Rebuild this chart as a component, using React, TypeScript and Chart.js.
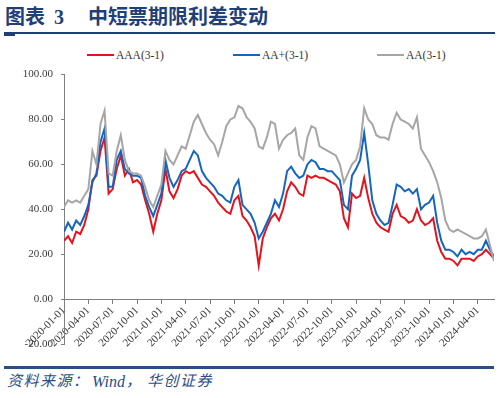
import React, { useEffect, useRef } from "react";
import { Chart, registerables } from "chart.js";

Chart.register(...registerables);

// semi-monthly observation dates (1st and 16th of each month), 2020-01-01 .. 2024-06-01
const dates: string[] = [];
for (let y = 2020; y <= 2024; y++) {
  for (let m = 1; m <= 12; m++) {
    const mm = String(m).padStart(2, "0");
    dates.push(`${y}-${mm}-01`);
    if (y === 2024 && m === 6) break;
    dates.push(`${y}-${mm}-16`);
  }
  if (y === 2024) break;
}

const quarterLabels = [
  "2020-01-01", "2020-04-01", "2020-07-01", "2020-10-01",
  "2021-01-01", "2021-04-01", "2021-07-01", "2021-10-01",
  "2022-01-01", "2022-04-01", "2022-07-01", "2022-10-01",
  "2023-01-01", "2023-04-01", "2023-07-01", "2023-10-01",
  "2024-01-01", "2024-04-01",
];

const seriesNames = ["AAA(3-1)", "AA+(3-1)", "AA(3-1)"];

const aaa = [
  26, 28, 25, 30, 29, 33, 40, 53, 55, 66, 72, 47,
  49, 58, 64, 55, 58, 52, 53, 51, 44, 38, 30, 38,
  44, 58, 48, 45, 49, 55, 57, 56, 57, 54, 51, 50,
  48, 46, 43, 41, 39, 38, 44, 46, 37, 35, 32, 28,
  15, 27, 32, 36, 38, 35, 40, 48, 52, 50, 47, 46,
  55, 54, 55, 54, 54, 53, 52, 51, 48, 36, 32, 47,
  45, 46, 54, 45, 38, 34, 32, 31, 30, 38, 42, 37,
  36, 34, 35, 40, 35, 33, 34, 36, 26, 21, 18, 18,
  17, 15, 18, 18, 18, 17, 19, 20, 22, 20, 18,
];

const aaPlus = [
  30, 34, 31, 35, 33, 37, 42, 52, 56, 70, 76, 50,
  50, 62, 66, 58, 56, 55, 55, 54, 46, 41, 37, 42,
  47, 62, 54, 50, 53, 57, 58, 62, 66, 64, 57, 54,
  52, 50, 47, 46, 44, 43, 50, 53, 42, 40, 38, 34,
  27, 30, 34, 38, 44, 41, 47, 57, 59, 56, 54, 55,
  60, 62, 61, 58, 58, 57, 57, 55, 53, 42, 40, 55,
  58, 62, 74, 60, 44, 38, 35, 33, 34, 42, 51, 50,
  48, 49, 47, 49, 40, 42, 43, 46, 34, 26, 22, 22,
  21, 19, 22, 20, 21, 20, 22, 22, 26, 22, 19,
];

const aa = [
  41, 44, 43, 44, 43, 46, 49, 66, 60, 78, 84, 56,
  55, 66, 73, 62, 57, 56, 56, 55, 50, 44, 41, 46,
  51, 66, 62, 60, 64, 68, 67, 73, 79, 82, 78, 74,
  71, 69, 64, 70, 77, 80, 81, 86, 85, 81, 79, 76,
  68, 67, 72, 79, 78, 67, 71, 73, 74, 76, 64, 62,
  72, 77, 76, 68, 67, 66, 65, 64, 60, 52, 56, 60,
  62, 68, 85, 80, 78, 73, 72, 72, 71, 78, 83, 80,
  79, 78, 76, 81, 67, 64, 61, 57, 52, 45, 35, 31,
  30, 31, 30, 29, 28, 27, 27, 28, 31, 24, 17,
];

const COLORS = ["#E3141E", "#1565C0", "#A6A6A6"];
const AXIS = "#7f7f7f";
const TICK_TEXT = "#3a3a3a";
const NAVY = "#1f3f78";
const FOOT = "#2a4d85";
const SERIF = '"Liberation Serif", "Noto Sans CJK SC", serif';

export default function App() {
  const ref = useRef<HTMLCanvasElement | null>(null);

  useEffect(() => {
    if (!ref.current) return;
    const series = [aaa, aaPlus, aa];
    const chart = new Chart(ref.current, {
      type: "line",
      data: {
        datasets: series.map((s, k) => ({
          label: seriesNames[k],
          data: s.map((v, i) => ({ x: i, y: v })),
          borderColor: COLORS[k],
          backgroundColor: COLORS[k],
          borderWidth: 2,
          pointRadius: 0,
          tension: 0,
          order: 2 - k,
        })),
      },
      options: {
        animation: false,
        responsive: false,
        maintainAspectRatio: false,
        layout: { padding: { top: 11, bottom: 16, left: 0, right: 6 } },
        plugins: { legend: { display: false }, tooltip: { enabled: false } },
        scales: {
          x: {
            type: "linear",
            min: 0,
            max: dates.length - 1,
            position: { y: 0 } as any,
            afterBuildTicks: (s: any) => {
              s.ticks = quarterLabels.map((l) => ({ value: dates.indexOf(l) }));
            },
            ticks: {
              autoSkip: false,
              maxRotation: 45,
              minRotation: 45,
              padding: 1,
              color: TICK_TEXT,
              font: { family: SERIF, size: 11 },
              callback: (v: any) => dates[Number(v)] ?? "",
            },
            grid: { drawOnChartArea: false, drawTicks: true, tickLength: 4, color: AXIS },
            border: { display: true, color: AXIS, width: 1 },
          },
          y: {
            min: -20,
            max: 100,
            afterFit: (s: any) => {
              s.width = 64;
            },
            ticks: {
              stepSize: 20,
              padding: 8,
              color: TICK_TEXT,
              font: { family: SERIF, size: 11 },
              callback: (v: any) => Number(v).toFixed(2),
            },
            grid: { drawOnChartArea: false, drawTicks: true, tickLength: 3, color: AXIS },
            border: { display: true, color: AXIS, width: 1 },
          },
        },
      },
    });
    return () => chart.destroy();
  }, []);

  const legendItems = [
    { x: 87, name: seriesNames[0], color: COLORS[0] },
    { x: 233, name: seriesNames[1], color: COLORS[1] },
    { x: 377, name: seriesNames[2], color: COLORS[2] },
  ];

  const footStyle: React.CSSProperties = {
    position: "absolute",
    top: 373,
    fontSize: 15,
    lineHeight: "17px",
    fontStyle: "italic",
    color: FOOT,
    whiteSpace: "nowrap",
  };

  return (
    <div
      style={{
        position: "absolute",
        left: 0,
        top: 0,
        width: 500,
        height: 398,
        background: "#fff",
        overflow: "hidden",
        fontFamily: SERIF,
      }}
    >
      {/* title */}
      <div style={{ position: "absolute", left: 5, top: 5, fontSize: 20, lineHeight: "24px", fontWeight: 700, color: NAVY, whiteSpace: "nowrap" }}>
        图表
      </div>
      <div style={{ position: "absolute", left: 54, top: 5, fontSize: 20, lineHeight: "24px", fontWeight: 700, color: NAVY }}>
        3
      </div>
      <div style={{ position: "absolute", left: 88, top: 5, fontSize: 20, lineHeight: "24px", fontWeight: 700, color: NAVY, whiteSpace: "nowrap" }}>
        中短票期限利差变动
      </div>
      <div style={{ position: "absolute", left: 4, top: 32, width: 491, height: 2, background: NAVY }} />
      <div style={{ position: "absolute", left: 4, top: 33, width: 11, height: 3, background: NAVY }} />

      {/* legend */}
      {legendItems.map((it) => (
        <div key={it.name}>
          <div style={{ position: "absolute", left: it.x, top: 54, width: 27, height: 2, background: it.color }} />
          <div style={{ position: "absolute", left: it.x + 29, top: 48, fontSize: 11.5, lineHeight: "14px", color: "#333", whiteSpace: "nowrap" }}>
            {it.name}
          </div>
        </div>
      ))}

      <canvas ref={ref} width={500} height={300} style={{ position: "absolute", left: 0, top: 60, width: 500, height: 300 }} />

      {/* footer */}
      <div style={{ position: "absolute", left: 4, top: 366, width: 490, height: 2.5, background: FOOT }} />
      <div style={{ ...footStyle, left: 7, letterSpacing: "1.5px" }}>资料来源：</div>
      <div style={{ ...footStyle, left: 92, fontSize: 16 }}>Wind</div>
      <div style={{ ...footStyle, left: 126 }}>，</div>
      <div style={{ ...footStyle, left: 147, letterSpacing: "1.5px" }}>华创证券</div>
    </div>
  );
}
